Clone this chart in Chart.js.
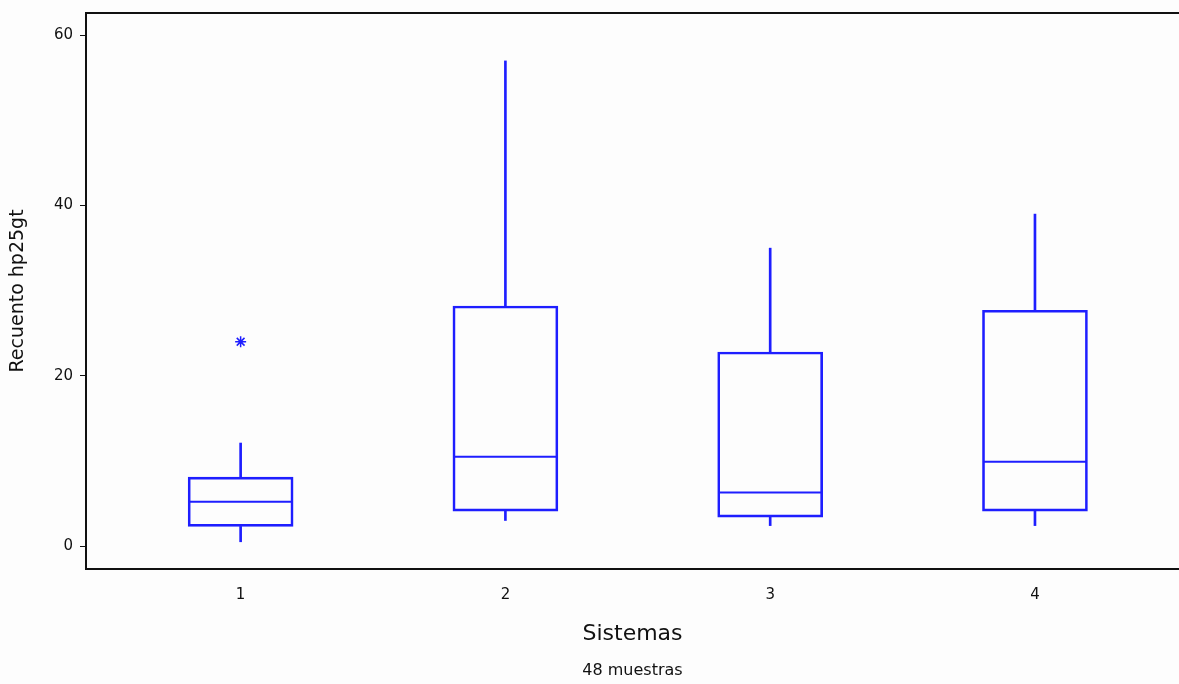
<!DOCTYPE html>
<html lang="es">
<head>
  <meta charset="UTF-8">
  <title>Recuento hp25gt por sistema</title>
  <script src="https://cdn.jsdelivr.net/npm/chart.js"></script>
  <style>
    body { margin: 0; background: #fdfdfd; }
    .wrap { width: 1179px; height: 684px; position: relative; }
  </style>
</head>
<body>
  <div class="wrap">
    <canvas id="boxChart"></canvas>
  </div>

  <script>
    // datos
    const SISTEMAS = [1, 2, 3, 4];
    const BIGOTE_INF = [0.5, 3.0, 2.4, 2.4];
    const Q1 = [2.3, 4.1, 3.4, 4.1];
    const MEDIANA = [5.2, 10.5, 6.3, 9.9];
    const Q3 = [8.1, 28.2, 22.8, 27.7];
    const BIGOTE_SUP = [12.1, 57, 35, 39];
    const ATIPICO_X = [1];
    const ATIPICO_Y = [24];
    const Y_TICKS = [0, 20, 40, 60];

    const AZUL = 'rgb(30, 30, 255)';
    const FONT = 'DejaVu Sans, Arial, sans-serif';

    // linea superior del marco
    const topLine = {
      id: 'topLine',
      afterDraw(chart) {
        const { ctx, chartArea } = chart;
        ctx.save();
        ctx.strokeStyle = '#111';
        ctx.lineWidth = 2;
        ctx.beginPath();
        ctx.moveTo(chartArea.left - 1, chartArea.top);
        ctx.lineTo(chartArea.right, chartArea.top);
        ctx.stroke();
        ctx.restore();
      }
    };

    const ctx = document.getElementById('boxChart').getContext('2d');
    new Chart(ctx, {
      type: 'bar',
      data: {
        datasets: [
          {
            // cajas Q1-Q3
            data: SISTEMAS.map((s, i) => ({ x: s, y: [Q1[i], Q3[i]] })),
            backgroundColor: 'rgba(0,0,0,0)',
            borderColor: AZUL,
            borderWidth: 2,
            borderSkipped: false,
            barThickness: 105,
            grouped: false
          },
          {
            // bigote superior
            data: SISTEMAS.map((s, i) => ({ x: s, y: [Q3[i], BIGOTE_SUP[i]] })),
            backgroundColor: AZUL,
            borderWidth: 0,
            barThickness: 2,
            grouped: false
          },
          {
            // bigote inferior
            data: SISTEMAS.map((s, i) => ({ x: s, y: [BIGOTE_INF[i], Q1[i]] })),
            backgroundColor: AZUL,
            borderWidth: 0,
            barThickness: 2,
            grouped: false
          },
          {
            // medianas
            type: 'scatter',
            data: SISTEMAS.map((s, i) => ({ x: s, y: MEDIANA[i] })),
            pointStyle: 'line',
            pointRadius: 52,
            borderColor: AZUL,
            borderWidth: 2
          },
          {
            // valores atipicos
            type: 'scatter',
            data: ATIPICO_X.map((s, i) => ({ x: s, y: ATIPICO_Y[i] })),
            pointStyle: 'star',
            pointRadius: 5.5,
            borderColor: AZUL,
            borderWidth: 1.5
          }
        ]
      },
      options: {
        responsive: true,
        maintainAspectRatio: false,
        animation: false,
        layout: { autoPadding: false, padding: { top: 13, left: 0, right: 0, bottom: 0 } },
        plugins: {
          legend: { display: false },
          tooltip: { enabled: false }
        },
        scales: {
          x: {
            type: 'linear',
            offset: false,
            min: 0.416,
            max: 4.544,
            afterBuildTicks: s => { s.ticks = SISTEMAS.map(v => ({ value: v })); },
            afterFit: s => { s.height = 85; s.paddingLeft = 0; s.paddingRight = 0; },
            grid: { display: false },
            border: { display: true, color: '#111', width: 2 },
            ticks: { color: '#111', font: { family: FONT, size: 15 }, padding: 9 },
            title: {
              display: true,
              text: 'Sistemas',
              color: '#111',
              font: { family: FONT, size: 22 },
              padding: { top: 0, bottom: 7 }
            }
          },
          x2: {
            type: 'linear',
            position: 'bottom',
            min: 0,
            max: 1,
            afterFit: s => { s.height = 30; s.paddingLeft = 0; s.paddingRight = 0; },
            grid: { display: false },
            border: { display: false },
            ticks: { display: false },
            title: {
              display: true,
              text: '48 muestras',
              color: '#111',
              font: { family: FONT, size: 16 },
              padding: { top: 0, bottom: 4 }
            }
          },
          y: {
            min: -2.7,
            max: 62.63,
            afterBuildTicks: s => { s.ticks = Y_TICKS.map(v => ({ value: v })); },
            afterFit: s => { s.width = 86; s.paddingTop = 0; s.paddingBottom = 0; },
            grid: {
              display: true,
              drawOnChartArea: false,
              drawTicks: true,
              tickLength: 6,
              color: '#111'
            },
            border: { display: true, color: '#111', width: 2 },
            ticks: { color: '#111', font: { family: FONT, size: 15 }, padding: 7 },
            title: {
              display: true,
              text: 'Recuento hp25gt',
              color: '#111',
              font: { family: FONT, size: 19 },
              padding: { top: 7, bottom: 0 }
            }
          }
        }
      },
      plugins: [topLine]
    });
  </script>
</body>
</html>
